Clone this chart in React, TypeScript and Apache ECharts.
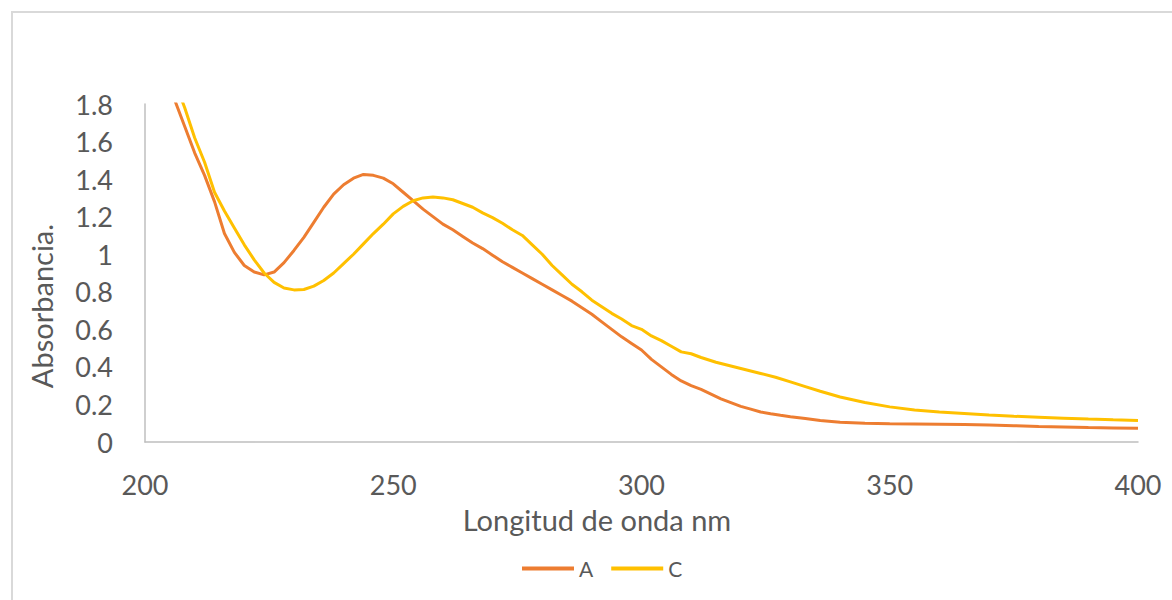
import React, { useEffect, useRef } from "react";
import * as echarts from "echarts";

const seriesNames = ["A", "C"];

const wavelengthA = [
  204, 206, 208, 210, 212, 214, 216, 218, 220, 222, 224, 226, 228, 230, 232, 234, 236, 238, 240,
  242, 244, 246, 248, 250, 252, 254, 256, 258, 260, 262, 264, 266, 268, 270, 272, 274, 276, 278,
  280, 282, 284, 286, 288, 290, 292, 294, 296, 298, 300, 302, 304, 306, 308, 310, 312, 314, 316,
  318, 320, 322, 324, 326, 328, 330, 333, 336, 340, 345, 350, 355, 360, 365, 370, 375, 380, 385,
  390, 395, 400,
];
const absorbanceA = [
  1.95, 1.82, 1.68, 1.54, 1.42, 1.28, 1.11, 1.01, 0.94, 0.905, 0.89, 0.905, 0.955, 1.02, 1.09, 1.17,
  1.25, 1.32, 1.37, 1.405, 1.425, 1.42, 1.405, 1.375, 1.33, 1.285, 1.24, 1.2, 1.16, 1.13, 1.095,
  1.06, 1.03, 0.995, 0.96, 0.93, 0.9, 0.87, 0.84, 0.81, 0.78, 0.75, 0.715, 0.68, 0.64, 0.6, 0.56,
  0.525, 0.49, 0.44, 0.4, 0.36, 0.325, 0.3, 0.28, 0.255, 0.23, 0.21, 0.19, 0.175, 0.16, 0.15,
  0.142, 0.135, 0.125, 0.114, 0.105, 0.1, 0.097, 0.096, 0.095, 0.093, 0.09, 0.087, 0.083, 0.08,
  0.077, 0.075, 0.073,
];

const wavelengthC = [
  206, 208, 210, 212, 214, 216, 218, 220, 222, 224, 226, 228, 230, 232, 234, 236, 238, 240, 242,
  244, 246, 248, 250, 252, 254, 256, 258, 260, 262, 264, 266, 268, 270, 272, 274, 276, 278, 280,
  282, 284, 286, 288, 290, 292, 294, 296, 298, 300, 302, 304, 306, 308, 310, 312, 315, 318, 321,
  324, 327, 330, 333, 336, 340, 345, 350, 355, 360, 365, 370, 375, 380, 385, 390, 395, 400,
];
const absorbanceC = [
  1.92, 1.78, 1.62, 1.49, 1.33, 1.23, 1.14, 1.05, 0.97, 0.9, 0.85, 0.82, 0.81, 0.812, 0.83, 0.86,
  0.9, 0.95, 1.0, 1.055, 1.11, 1.16, 1.215, 1.255, 1.285, 1.3, 1.305, 1.3, 1.29, 1.27, 1.25, 1.22,
  1.195, 1.165, 1.13, 1.1, 1.05, 1.0, 0.94, 0.89, 0.84, 0.8, 0.755, 0.72, 0.685, 0.655, 0.62, 0.6,
  0.565, 0.54, 0.51, 0.48, 0.47, 0.45, 0.425, 0.405, 0.385, 0.365, 0.345, 0.32, 0.295, 0.27, 0.24,
  0.21, 0.187, 0.17, 0.16, 0.152, 0.144, 0.137, 0.132, 0.127, 0.122, 0.118, 0.115,
];

const xTitle = "Longitud de onda nm";
const yTitle = "Absorbancia.";

const FONT = "Lato, 'Open Sans', sans-serif";
const TEXT = "#595959";

export default function App() {
  const ref = useRef<HTMLDivElement>(null);

  useEffect(() => {
    document.body.style.margin = "0";
    if (!ref.current) return;
    const chart = echarts.init(ref.current, null, { renderer: "svg" });
    const pairs = (xs: number[], ys: number[]) => xs.map((x, i) => [x, ys[i]]);
    chart.setOption({
      animation: false,
      backgroundColor: "#ffffff",
      grid: { left: 145, right: 34, top: 104, bottom: 158, containLabel: false },
      graphic: [
        {
          type: "rect",
          shape: { x: 12, y: 12, width: 1300, height: 800 },
          style: { fill: "none", stroke: "#d9d9d9", lineWidth: 2 },
          silent: true,
        },
        {
          type: "text",
          x: 597,
          y: 519,
          style: {
            text: xTitle,
            fill: TEXT,
            font: `29px ${FONT}`,
            align: "center",
            verticalAlign: "middle",
          },
        },
        {
          type: "text",
          x: 41,
          y: 306,
          rotation: Math.PI / 2,
          style: {
            text: yTitle,
            fill: TEXT,
            font: `29px ${FONT}`,
            align: "center",
            verticalAlign: "middle",
          },
        },
      ],
      legend: {
        data: seriesNames,
        left: 522,
        top: 558,
        padding: 0,
        icon: "rect",
        itemWidth: 52,
        itemHeight: 4,
        itemGap: 18,
        textStyle: { color: TEXT, fontSize: 21, fontFamily: FONT },
      },
      xAxis: {
        type: "value",
        min: 200,
        max: 400,
        interval: 50,
        axisLine: { show: true, lineStyle: { color: "#bfbfbf", width: 1.5 } },
        axisTick: { show: false },
        splitLine: { show: false },
        axisLabel: { color: TEXT, fontSize: 27, fontFamily: FONT, margin: 29 },
      },
      yAxis: {
        type: "value",
        min: 0,
        max: 1.8,
        interval: 0.2,
        axisLine: { show: true, lineStyle: { color: "#bfbfbf", width: 1.5 } },
        axisTick: { show: false },
        splitLine: { show: false },
        axisLabel: {
          color: TEXT,
          fontSize: 27,
          fontFamily: FONT,
          margin: 32,
          formatter: (v: number) => String(+v.toFixed(1)),
        },
      },
      series: [
        {
          name: seriesNames[0],
          type: "line",
          data: pairs(wavelengthA, absorbanceA),
          showSymbol: false,
          clip: true,
          lineStyle: { color: "#ED7D31", width: 3 },
          itemStyle: { color: "#ED7D31" },
        },
        {
          name: seriesNames[1],
          type: "line",
          data: pairs(wavelengthC, absorbanceC),
          showSymbol: false,
          clip: true,
          lineStyle: { color: "#FFC000", width: 3 },
          itemStyle: { color: "#FFC000" },
        },
      ],
    });
    return () => chart.dispose();
  }, []);

  return <div ref={ref} style={{ width: 1172, height: 600 }} />;
}
